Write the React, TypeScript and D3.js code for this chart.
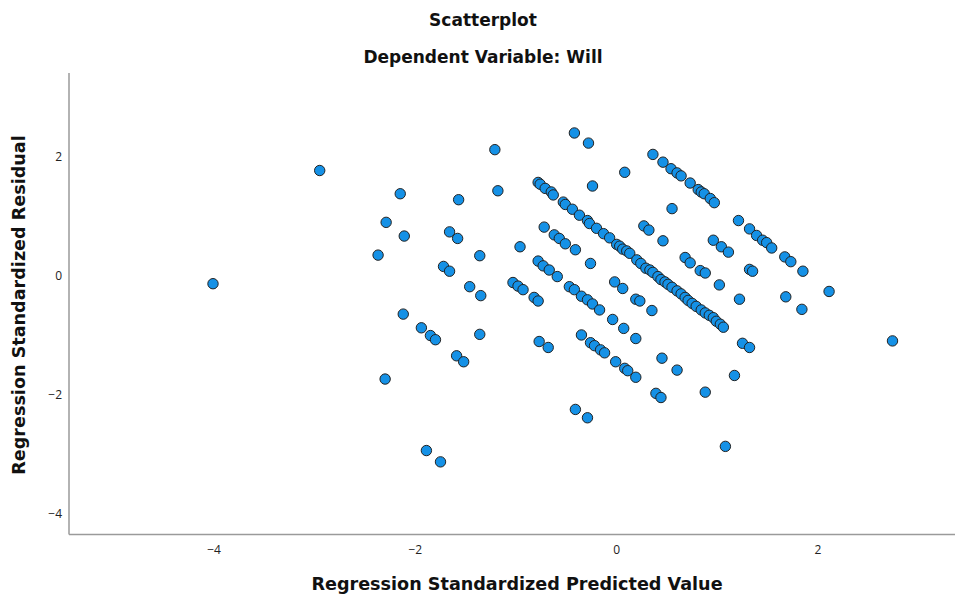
import React from "react";
import * as d3 from "d3";

// Regression Standardized Predicted Value (x) and Regression Standardized Residual (y)
const predicted: number[] = [
  // far left / left cluster
  -4.01, -2.95, -2.15, -2.29, -2.11, -2.37, -1.57, -1.66, -1.58, -1.36, -1.72, -1.66, -1.46, -1.35,
  -2.12, -1.94, -1.85, -1.80, -1.59, -1.52, -2.30, -1.36, -1.89, -1.75,
  // upper scattered
  -1.21, -1.18, -0.96, -0.42, -0.28, 0.08, -0.24,
  // main diagonal
  -0.78, -0.76, -0.71, -0.65, -0.63, -0.53, -0.51, -0.44, -0.37, -0.29, -0.27, -0.20, -0.13, -0.07,
  0.00, 0.03, 0.06, 0.10, 0.13, 0.20, 0.24, 0.29, 0.33, 0.36, 0.41, 0.44, 0.48, 0.51, 0.55, 0.60,
  0.64, 0.68, 0.71, 0.75, 0.79, 0.84, 0.88, 0.92, 0.96, 0.99, 1.03, 1.06,
  // upper diagonal
  0.36, 0.46, 0.54, 0.60, 0.64, 0.73, 0.81, 0.84, 0.87, 0.93, 0.97, 1.21, 1.32, 1.39, 1.45, 1.49,
  1.54, 1.67, 1.73, 1.85,
  // middle scattered
  0.55, 0.27, 0.32, 0.46, 0.96, 1.04, 1.11, 0.68, 0.73, 0.83, 0.88, 1.32, 1.35, 1.02, 1.22, 1.68,
  2.11, 1.84, 2.74,
  // diagonal just below main
  -0.72, -0.62, -0.57, -0.51, -0.41, -0.26, -0.02, 0.06, 0.19, 0.23, 0.35,
  // second diagonal below
  -0.78, -0.73, -0.67, -0.59, -0.47, -0.42, -0.35, -0.29, -0.24, -0.17, -0.04, 0.07, 0.19, 0.45, 0.60,
  // third diagonal below
  -1.03, -0.98, -0.93, -0.82, -0.78, -0.35, -0.26, -0.22, -0.16, -0.12, -0.01, 0.08, 0.11, 0.19,
  // lower scattered
  -0.77, -0.68, -0.41, -0.29, 0.39, 0.44, 0.88, 1.17, 1.25, 1.32, 1.08,
];

const residual: number[] = [
  -0.13, 1.77, 1.38, 0.90, 0.67, 0.35, 1.28, 0.74, 0.63, 0.34, 0.16, 0.08, -0.18, -0.33,
  -0.64, -0.87, -1.00, -1.07, -1.34, -1.44, -1.73, -0.98, -2.93, -3.12,
  2.12, 1.43, 0.49, 2.40, 2.23, 1.74, 1.51,
  1.57, 1.54, 1.47, 1.41, 1.36, 1.24, 1.20, 1.12, 1.02, 0.93, 0.88, 0.80, 0.71, 0.64,
  0.53, 0.50, 0.45, 0.42, 0.38, 0.27, 0.21, 0.13, 0.10, 0.06, -0.01, -0.06, -0.10, -0.14, -0.19, -0.25,
  -0.30, -0.36, -0.41, -0.46, -0.51, -0.57, -0.62, -0.66, -0.70, -0.76, -0.81, -0.86,
  2.04, 1.91, 1.80, 1.73, 1.68, 1.56, 1.45, 1.41, 1.38, 1.30, 1.23, 0.93, 0.79, 0.68, 0.60, 0.56,
  0.47, 0.32, 0.24, 0.08,
  1.13, 0.84, 0.77, 0.59, 0.60, 0.49, 0.40, 0.31, 0.22, 0.09, 0.05, 0.11, 0.08, -0.15, -0.39, -0.35,
  -0.26, -0.56, -1.09,
  0.82, 0.69, 0.63, 0.54, 0.44, 0.21, -0.10, -0.21, -0.39, -0.42, -0.58,
  0.25, 0.17, 0.10, -0.01, -0.18, -0.23, -0.34, -0.40, -0.47, -0.57, -0.73, -0.88, -1.05, -1.38, -1.58,
  -0.11, -0.17, -0.23, -0.36, -0.42, -0.99, -1.12, -1.17, -1.24, -1.29, -1.44, -1.55, -1.59, -1.70,
  -1.10, -1.20, -2.24, -2.38, -1.97, -2.04, -1.95, -1.67, -1.13, -1.20, -2.86,
];

const xTicks: number[] = [-4, -2, 0, 2];
const yTicks: number[] = [-4, -2, 0, 2];

const title = "Scatterplot";
const subtitle = "Dependent Variable: Will";
const xTitle = "Regression Standardized Predicted Value";
const yTitle = "Regression Standardized Residual";

const W = 955;
const H = 598;
const plotLeft = 69;
const plotRight = 955;
const plotTop = 73;
const plotBottom = 534.5;

const font = "'DejaVu Sans', 'Open Sans', sans-serif";

export default function App() {
  const x = d3.scaleLinear().domain([-4, 2]).range([214, 818]);
  const y = d3.scaleLinear().domain([-4, 2]).range([514.3, 156.8]);
  const points = predicted.map((p, i) => ({ p, r: residual[i] }));
  const fmt = (v: number) => (v < 0 ? "\u2212" + Math.abs(v) : String(v));

  return (
    <svg
      width={W}
      height={H}
      style={{ position: "absolute", left: 0, top: 0, background: "#fff" }}
    >
      <rect x={0} y={0} width={W} height={H} fill="#fff" />
      <text x={483} y={26} textAnchor="middle" fontFamily={font} fontWeight={700} fontSize={17} fill="#111">
        {title}
      </text>
      <text x={483} y={63} textAnchor="middle" fontFamily={font} fontWeight={700} fontSize={17} fill="#111">
        {subtitle}
      </text>

      {/* axes */}
      <line x1={plotLeft} y1={plotTop} x2={plotLeft} y2={plotBottom} stroke="#9a9a9a" strokeWidth={1.5} />
      <line x1={plotLeft} y1={plotBottom} x2={plotRight} y2={plotBottom} stroke="#9a9a9a" strokeWidth={1.5} />

      {xTicks.map((t) => (
        <text key={"x" + t} x={x(t)} y={554} textAnchor="middle" fontFamily="'Open Sans', sans-serif" fontSize={12} fill="#222">
          {fmt(t)}
        </text>
      ))}
      {yTicks.map((t) => (
        <text key={"y" + t} x={62} y={y(t) + 4} textAnchor="end" fontFamily="'Open Sans', sans-serif" fontSize={12} fill="#222">
          {fmt(t)}
        </text>
      ))}

      <text x={517} y={590} textAnchor="middle" fontFamily={font} fontWeight={700} fontSize={17.6} fill="#111">
        {xTitle}
      </text>
      <text
        transform={`translate(25,305) rotate(-90)`}
        textAnchor="middle"
        fontFamily={font}
        fontWeight={700}
        fontSize={17.6}
        fill="#111"
      >
        {yTitle}
      </text>

      {points.map((d, i) => (
        <circle
          key={i}
          cx={x(d.p)}
          cy={y(d.r)}
          r={5.2}
          fill="#1591e6"
          stroke="#222"
          strokeWidth={1}
        />
      ))}
    </svg>
  );
}
